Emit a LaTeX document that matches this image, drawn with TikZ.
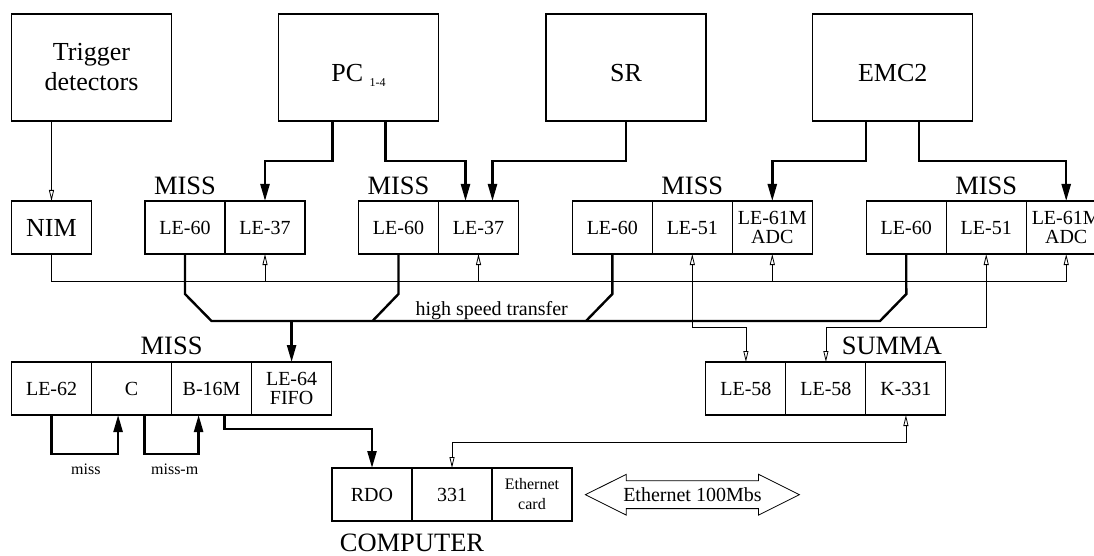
\documentclass[tikz,border=0pt]{standalone}
\usepackage{fontspec}
\setmainfont{Liberation Serif}
\usetikzlibrary{positioning,arrows.meta,shapes.arrows}

\begin{document}
\begin{tikzpicture}
    [
    x=1pt, y=-1pt,
    every node/.style={inner sep=0pt, outer sep=0pt},
    detbox/.style={draw, line width=1.1pt, minimum width=160pt, minimum height=107pt, align=center, font=\fontsize{26}{30}\selectfont},
    detlow/.style={detbox, text height=28pt, text depth=0pt},
    cell/.style={draw, line width=1.1pt, minimum width=80pt, minimum height=53pt, align=center, font=\fontsize{20}{19}\selectfont},
    bigcell/.style={cell, font=\fontsize{26}{26}\selectfont},
    smallcell/.style={cell, font=\fontsize{16}{20}\selectfont},
    grp/.style={font=\fontsize{26.5}{26.5}\selectfont},
    note/.style={font=\fontsize{16}{16}\selectfont},
    busline/.style={line width=2.4pt, line join=miter},
    bus/.style={busline, -{Triangle[length=17pt,width=9pt]}},
    fb/.style={line width=0.8pt, -{Triangle[open,length=11pt,width=5pt]}},
    fbboth/.style={line width=0.8pt, {Triangle[open,length=11pt,width=5pt]}-{Triangle[open,length=11pt,width=5pt]}},
    ]
    \useasboundingbox (0,0) rectangle (1094,556);

    % detectors
    \node[detbox] (trig) at (91.5,67.5) {Trigger\\detectors};
    \node[detlow] (pc) at (358.5,67.5) {PC\ \raisebox{-5pt}{\fontsize{12}{12}\selectfont 1-4}};
    \node[detlow] (sr) at (626,67.5) {SR};
    \node[detlow] (emc) at (892.7,67.5) {EMC2};

    % front-end crates
    \node[bigcell] (nim) at (51.5,227.5) {NIM};

    \node[cell] (m1a) at (185,227.5) {LE-60};
    \node[cell, right=0pt of m1a] (m1b) {LE-37};
    \node[grp, above=6pt of m1a] (l1) {MISS};

    \node[cell] (m2a) at (398.5,227.5) {LE-60};
    \node[cell, right=0pt of m2a] (m2b) {LE-37};
    \node[grp, above=6pt of m2a] (l2) {MISS};

    \node[cell] (m3a) at (612.3,227.5) {LE-60};
    \node[cell, right=0pt of m3a] (m3b) {LE-51};
    \node[cell, right=0pt of m3b] (m3c) {LE-61M\\ADC};
    \node[grp, above=6pt of m3b] (l3) {MISS};

    \node[cell] (m4a) at (906.2,227.5) {LE-60};
    \node[cell, right=0pt of m4a] (m4b) {LE-51};
    \node[cell, right=0pt of m4b] (m4c) {LE-61M\\ADC};
    \node[grp, above=6pt of m4b] (l4) {MISS};

    % readout crate
    \node[cell] (m5a) at (51.6,388.5) {LE-62};
    \node[cell, right=0pt of m5a] (m5b) {C};
    \node[cell, right=0pt of m5b] (m5c) {B-16M};
    \node[cell, right=0pt of m5c] (m5d) {LE-64\\FIFO};
    \node[grp, above=7pt of m5b.north east] (l5) {MISS};

    \node[cell] (s1) at (745.9,388.5) {LE-58};
    \node[cell, right=0pt of s1] (s2) {LE-58};
    \node[cell, right=0pt of s2] (s3) {K-331};
    \node[grp, above left=7pt and 4pt of s3.north east] (lsum) {SUMMA};

    \node[cell] (cp1) at (372,494.5) {RDO};
    \node[cell, right=0pt of cp1] (cp2) {331};
    \node[smallcell, right=0pt of cp2] (cp3) {Ethernet\\card};
    \node[grp, below=13pt of cp1.south east] (lcomp) {COMPUTER};

    \node[draw, line width=0.8pt, double arrow, double arrow head extend=6.5pt,
      double arrow tip angle=53, minimum height=214pt, inner xsep=0pt, inner ysep=13.5pt,
      label={[font=\fontsize{20}{20}\selectfont]center:Ethernet 100Mbs}] (eth) at (692.4,494.7) {};

    \coordinate (fbrow) at (0,281);
    \coordinate (sumrow) at (0,327.7);
    \coordinate (busL) at (211.5,321);
    \coordinate (busR) at (880,321);

    % signals from detectors
    \draw[fb] (trig.south -| nim.north) -- (nim.north);
    \draw[bus] ([xshift=-26pt]pc.south) -- ++(0,40) -| (m1b.north);
    \draw[bus] ([xshift=27pt]pc.south) -- ++(0,40) -| ([xshift=-13pt]m2b.north);
    \draw[bus] (sr.south) -- ++(0,40) -| ([xshift=14pt]m2b.north);
    \draw[bus] ([xshift=-26.5pt]emc.south) -- ++(0,40) -| (m3c.north);
    \draw[bus] ([xshift=26.5pt]emc.south) -- ++(0,40) -| (m4c.north);

    % thin lines
    \draw[fb] (nim.south) -- (nim.south |- fbrow) -| (m4c.south);
    \foreach \c in {m1b,m2b,m3c}
      \draw[fb] (\c.south |- fbrow) -- (\c.south);
    \draw[fbboth] (m3b.south) -- (m3b.south |- sumrow) -| (s1.north);
    \draw[fbboth] (m4b.south) -- (m4b.south |- sumrow) -| (s2.north);
    \draw[fbboth] (s3.south) -- ++(0,27) -| (cp2.north);

    % high speed transfer
    \draw[busline] (m1a.south) -- ++(0,40) -- (busL) -- (busR) -- ++(26.3,-27) -- (m4a.south);
    \draw[busline] (m2a.south) -- ++(0,40) -- ++(-26,27);
    \draw[busline] (m3a.south) -- ++(0,40) -- ++(-26.3,27);
    \draw[bus] (m5d.north |- busL) -- (m5d.north);
    \node[anchor=base, font=\fontsize{20}{20}\selectfont] (lhst) at (491.7,315) {high speed transfer};

    % readout
    \draw[bus] (m5a.south) -- ++(0,39) -| ([xshift=-13.5pt]m5b.south);
    \draw[bus] ([xshift=13pt]m5b.south) -- ++(0,39) -| ([xshift=-13pt]m5c.south);
    \draw[bus] ([xshift=13pt]m5c.south) -- ++(0,14) -| (cp1.north);
    \node[note, anchor=base] (lmiss) at (85.9,474) {miss};
    \node[note, anchor=base] (lmissm) at (174.7,474) {miss-m};
\end{tikzpicture}
\end{document}
